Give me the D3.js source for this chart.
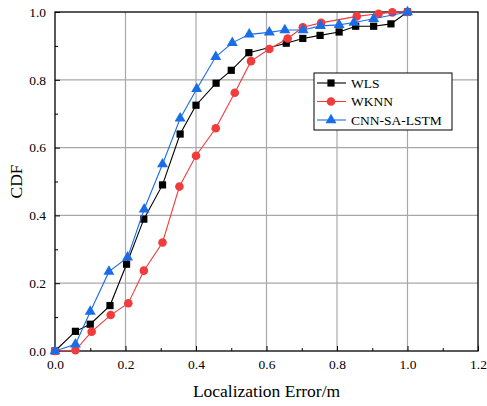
<!DOCTYPE html>
<html>
<head>
<meta charset="utf-8">
<script src="https://cdn.jsdelivr.net/npm/d3@7"></script>
<style>
  body { margin: 0; background: #fff; }
  svg text { font-family: "Liberation Serif", "Times New Roman", serif !important; }
</style>
</head>
<body>
<script>
var width = 487
var height = 406
var margin = { top: 12, right: 9, bottom: 55, left: 55 }

// data
var wlsX = [0, 0.058, 0.1, 0.156, 0.203, 0.252, 0.305, 0.355, 0.4, 0.457, 0.5, 0.55, 0.656, 0.703, 0.752, 0.806, 0.853, 0.904, 0.953, 1.0]
var wlsY = [0, 0.058, 0.079, 0.134, 0.256, 0.389, 0.49, 0.64, 0.725, 0.79, 0.828, 0.88, 0.908, 0.922, 0.931, 0.941, 0.958, 0.958, 0.965, 1.0]

var wknnX = [0, 0.058, 0.104, 0.158, 0.208, 0.252, 0.305, 0.353, 0.4, 0.456, 0.51, 0.556, 0.608, 0.66, 0.703, 0.755, 0.856, 0.918, 0.957, 1.0]
var wknnY = [0, 0.002, 0.057, 0.106, 0.141, 0.237, 0.32, 0.485, 0.576, 0.657, 0.762, 0.855, 0.891, 0.922, 0.955, 0.968, 0.987, 0.995, 0.999, 1.0]

var cnnX = [0, 0.058, 0.1, 0.153, 0.206, 0.253, 0.305, 0.355, 0.402, 0.456, 0.503, 0.551, 0.608, 0.652, 0.704, 0.753, 0.806, 0.848, 0.904, 1.0]
var cnnY = [0, 0.02, 0.116, 0.234, 0.276, 0.418, 0.551, 0.686, 0.773, 0.868, 0.909, 0.934, 0.94, 0.947, 0.947, 0.959, 0.962, 0.969, 0.98, 1.0]

var seriesNames = ['WLS', 'WKNN', 'CNN-SA-LSTM']
var xTicks = [0, 0.2, 0.4, 0.6, 0.8, 1.0, 1.2]
var yTicks = [0, 0.2, 0.4, 0.6, 0.8, 1.0]

var series = [
    { name: seriesNames[0], xs: wlsX, ys: wlsY, color: '#000000', shape: d3.symbolSquare, size: 52 },
    { name: seriesNames[1], xs: wknnX, ys: wknnY, color: '#f03c3c', shape: d3.symbolCircle, size: 58 },
    { name: seriesNames[2], xs: cnnX, ys: cnnY, color: '#1a6de6', shape: d3.symbolTriangle, size: 52 }
]

var svg = d3.select('body').append('svg').attr('width', width).attr('height', height)
    .style('font-family', '"Liberation Serif", serif')

var x = d3.scaleLinear().domain([0, 1.2]).range([margin.left, width - margin.right])
var y = d3.scaleLinear().domain([0, 1.0]).range([height - margin.bottom, margin.top])

// grid
svg.append('g')
    .selectAll('line.gx')
    .data(xTicks.slice(1, -1))
    .enter()
    .append('line')
    .attr('x1', function (d) { return x(d) })
    .attr('x2', function (d) { return x(d) })
    .attr('y1', y(0))
    .attr('y2', y(1))
    .attr('stroke', '#a8a8a8')
    .attr('stroke-width', 1.2)
svg.append('g')
    .selectAll('line.gy')
    .data(yTicks.slice(1, -1))
    .enter()
    .append('line')
    .attr('y1', function (d) { return y(d) })
    .attr('y2', function (d) { return y(d) })
    .attr('x1', x(0))
    .attr('x2', x(1.2))
    .attr('stroke', '#a8a8a8')
    .attr('stroke-width', 1.2)

// axes, ticks inward
var xAxis = d3.axisBottom(x)
    .tickValues(d3.range(0, 1.21, 0.1))
    .tickSize(-4)
    .tickFormat(function (d) {
        var r = Math.round(d * 10)
        return r % 2 === 0 ? d3.format('.1f')(d) : ''
    })
var gx = svg.append('g').attr('transform', 'translate(0,' + y(0) + ')').call(xAxis)
    .attr('font-family', '"Liberation Serif", serif')
gx.select('.domain').remove()
gx.selectAll('.tick line').attr('stroke', '#000').attr('y2', function (d) {
    return Math.round(d * 10) % 2 === 0 ? -5 : -3
})
gx.selectAll('.tick text').attr('y', 8).attr('dy', '0.71em')
    .style('font-size', '13.5px').attr('fill', '#000')

var yAxis = d3.axisLeft(y)
    .tickValues(d3.range(0, 1.01, 0.1))
    .tickSize(-4)
    .tickFormat(function (d) {
        var r = Math.round(d * 10)
        return r % 2 === 0 ? d3.format('.1f')(d) : ''
    })
var gy = svg.append('g').attr('transform', 'translate(' + x(0) + ',0)').call(yAxis)
    .attr('font-family', '"Liberation Serif", serif')
gy.select('.domain').remove()
gy.selectAll('.tick line').attr('stroke', '#000').attr('x2', function (d) {
    return Math.round(d * 10) % 2 === 0 ? 5 : 3
})
gy.selectAll('.tick text').attr('x', -9)
    .style('font-size', '13.5px').attr('fill', '#000')

// frame
svg.append('rect')
    .attr('x', x(0))
    .attr('y', y(1))
    .attr('width', x(1.2) - x(0))
    .attr('height', y(0) - y(1))
    .attr('fill', 'none')
    .attr('stroke', '#000')
    .attr('stroke-width', 1.3)

// lines and markers
var line = d3.line()
    .x(function (d) { return x(d[0]) })
    .y(function (d) { return y(d[1]) })

series.forEach(function (s) {
    var pts = s.xs.map(function (v, i) { return [v, s.ys[i]] })
    var g = svg.append('g')
    g.append('path')
        .datum(pts)
        .attr('d', line)
        .attr('fill', 'none')
        .attr('stroke', s.color)
        .attr('stroke-width', 1.1)
    g.selectAll('path.m')
        .data(pts)
        .enter()
        .append('path')
        .attr('d', d3.symbol().type(s.shape).size(s.size))
        .attr('transform', function (d) {
            return 'translate(' + x(d[0]) + ',' + y(d[1]) + ')'
        })
        .attr('fill', s.color)
})

// legend
var lg = svg.append('g').attr('transform', 'translate(314,73)')
lg.append('rect')
    .attr('width', 138)
    .attr('height', 57)
    .attr('fill', '#fff')
    .attr('stroke', '#000')
    .attr('stroke-width', 1)
series.forEach(function (s, i) {
    var cy = 10 + i * 18.5
    lg.append('line')
        .attr('x1', 3).attr('x2', 32)
        .attr('y1', cy).attr('y2', cy)
        .attr('stroke', s.color).attr('stroke-width', 1.1)
    lg.append('path')
        .attr('d', d3.symbol().type(s.shape).size(s.size)())
        .attr('transform', 'translate(17,' + cy + ')')
        .attr('fill', s.color)
    lg.append('text')
        .attr('x', 37)
        .attr('y', cy)
        .attr('dy', '0.35em')
        .style('font-size', '13.5px')
        .text(s.name)
})

// axis titles
svg.append('text')
    .attr('x', (x(0) + x(1.2)) / 2)
    .attr('y', 397)
    .attr('text-anchor', 'middle')
    .style('font-size', '17.5px')
    .text('Localization Error/m')

svg.append('text')
    .attr('transform', 'translate(22,' + (y(0) + y(1)) / 2 + ') rotate(-90)')
    .attr('text-anchor', 'middle')
    .style('font-size', '17.5px')
    .text('CDF')
</script>
</body>
</html>
